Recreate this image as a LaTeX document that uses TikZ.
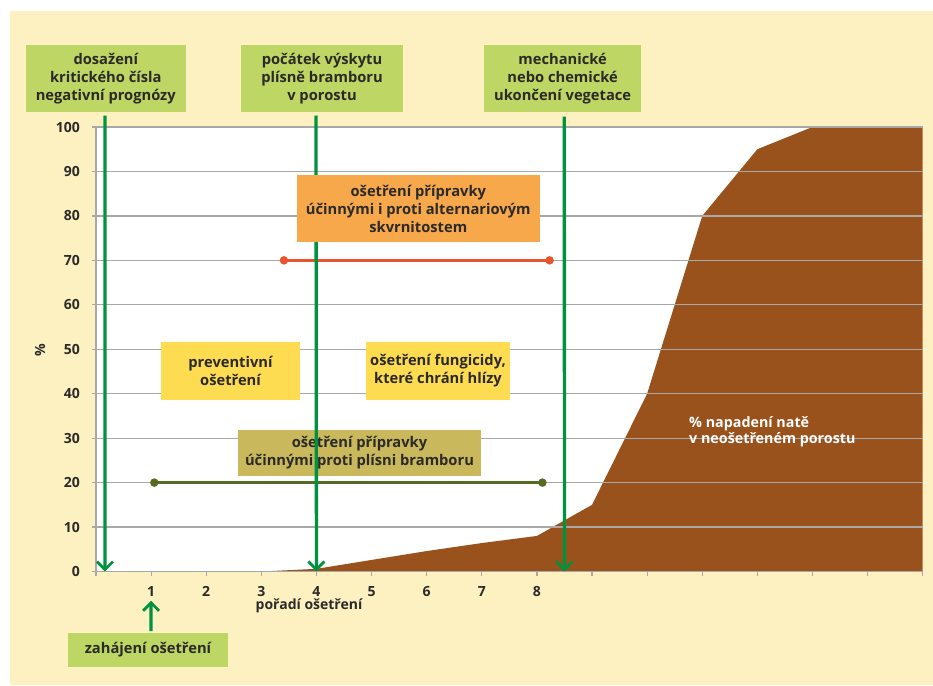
\documentclass[tikz,border=0pt]{standalone}
\usepackage{fontspec}
\setmainfont{Open Sans}
\usetikzlibrary{arrows.meta}
\definecolor{cream}{HTML}{FDF1C1}
\definecolor{boxgreen}{HTML}{BED663}
\definecolor{boxorange}{HTML}{F7A84B}
\definecolor{boxyellow}{HTML}{FDDC52}
\definecolor{boxolive}{HTML}{C9B95C}
\definecolor{areabrown}{HTML}{9A521C}
\definecolor{arrgreen}{HTML}{00933F}
\definecolor{redline}{HTML}{E9542C}
\definecolor{oliveline}{HTML}{556B21}
\definecolor{txt}{HTML}{2B2A29}
\definecolor{gridc}{HTML}{A8A8A8}
\tikzset{
  lbl/.style={text=txt, font=\bfseries\fontsize{14.7}{18}\selectfont, align=center, inner sep=0pt},
  gbox/.style={lbl, fill=boxgreen},
  obox/.style={lbl, fill=boxorange},
  ybox/.style={lbl, fill=boxyellow},
  olbox/.style={lbl, fill=boxolive},
  arealbl/.style={text=white, font=\bfseries\fontsize{14.3}{16}\selectfont, align=left, inner sep=0pt},
  axlbl/.style={text=txt, font=\bfseries\fontsize{14}{17}\selectfont, inner sep=0pt},
  gridline/.style={draw=gridc, line width=1.2pt},
  marker/.style={draw=arrgreen, line width=3.3pt, -{Straight Barb[length=8pt,width=16pt,line width=2.8pt]}},
  dotc/.style={circle, inner sep=0pt, minimum size=8.5pt},
}
\begin{document}
\begin{tikzpicture}[x=1pt,y=-1pt]
\useasboundingbox (0,0) rectangle (933,685);
\fill[cream] (10,11) rectangle (933,685);
\fill[white] (96,127) rectangle (922.7,571.5);

\begin{scope}[shift={(96pt,-571.5pt)}, x=55.113pt, y=4.445pt]
  % area
  \fill[areabrown] (3,0) -- (4,0.6) -- (5,2.6) -- (6,4.6) -- (7,6.4) -- (8,8) -- (9,15)
     -- (10,40) -- (11,80) -- (12,95) -- (13,100) -- (15,100) -- (15,0) -- cycle;
  % grid lines
  \foreach \v in {10,20,...,100} {
    \draw[gridline] (-0.0726,\v) -- (15,\v);
    \node[axlbl, anchor=east] at (-0.29,\v) {\v};
  }
  \node[axlbl, anchor=east] at (-0.29,0) {0};
  % axes
  \draw[gridline] (0,0) -- (0,100);
  \draw[gridline] (-0.0726,0) -- (15,0);
  \foreach \i in {0,...,15} \draw[gridline] (\i,0) -- (\i,-1.1);
  \foreach \i in {1,...,8} \node[axlbl] at (\i,-4.55) {\i};
  % ranges
  \node[dotc, fill=redline] (r1) at (3.41,70) {};
  \node[dotc, fill=redline] (r2) at (8.23,70) {};
  \draw[redline, line width=2.8pt] (r1.center) -- (r2.center);
  \node[dotc, fill=oliveline] (o1) at (1.058,20) {};
  \node[dotc, fill=oliveline] (o2) at (8.1,20) {};
  \draw[oliveline, line width=2.8pt] (o1.center) -- (o2.center);
  % arrow targets
  \coordinate (t1) at (0.163,0);
  \coordinate (t2) at (4.0,0);
  \coordinate (t3) at (8.5,0);
  \coordinate (t4) at (1,-6.6);
\end{scope}

\node[axlbl, rotate=90] (pct) at (40,350) {\%};
\node[axlbl] (xtitle) at (309,606) {pořadí ošetření};

% boxes
\node[gbox, minimum width=159.7pt, minimum height=66.7pt] (b1) at (105.8,78.3)
  {dosažení\\kritického čísla\\negativní prognózy};
\node[gbox, minimum width=162pt, minimum height=66.7pt] (b2) at (322,78.3)
  {počátek výskytu\\plísně bramboru\\v porostu};
\node[gbox, minimum width=156.7pt, minimum height=66.7pt] (b3) at (562.7,78.3)
  {mechanické\\nebo chemické\\ukončení vegetace};
\node[gbox, minimum width=159.3pt, minimum height=33.3pt] (b4) at (148,650)
  {zahájení ošetření};
\node[ybox, minimum width=139pt, minimum height=57.7pt] (b6) at (230.5,370.8)
  {preventivní\\ošetření};
\node[ybox, minimum width=144pt, minimum height=57.7pt] (b7) at (438,370.8)
  {ošetření fungicidy,\\které chrání hlízy};
\node[olbox, minimum width=243pt, minimum height=45.7pt] (b8) at (359.5,452.8)
  {ošetření přípravky\\účinnými proti plísni bramboru};

\node[arealbl, anchor=west] (area) at (689,431.5)
  {\% napadení natě\\v neošetřeném porostu};

% arrows
\coordinate (s1) at (105,115.5);
\coordinate (s2) at (316,115.5);
\coordinate (s3) at (564.3,116.5);
\coordinate (s4) at (151,631);
\draw[marker] (s1) -- (t1);
\draw[marker] (s2) -- (t2);
\draw[marker] (s3) -- (t3);
\draw[marker] (s4) -- (t4);

\node[obox, minimum width=242.7pt, minimum height=67.3pt] (b5) at (418.3,208.7)
  {ošetření přípravky\\účinnými i proti alternariovým\\skvrnitostem};
\end{tikzpicture}
\end{document}
